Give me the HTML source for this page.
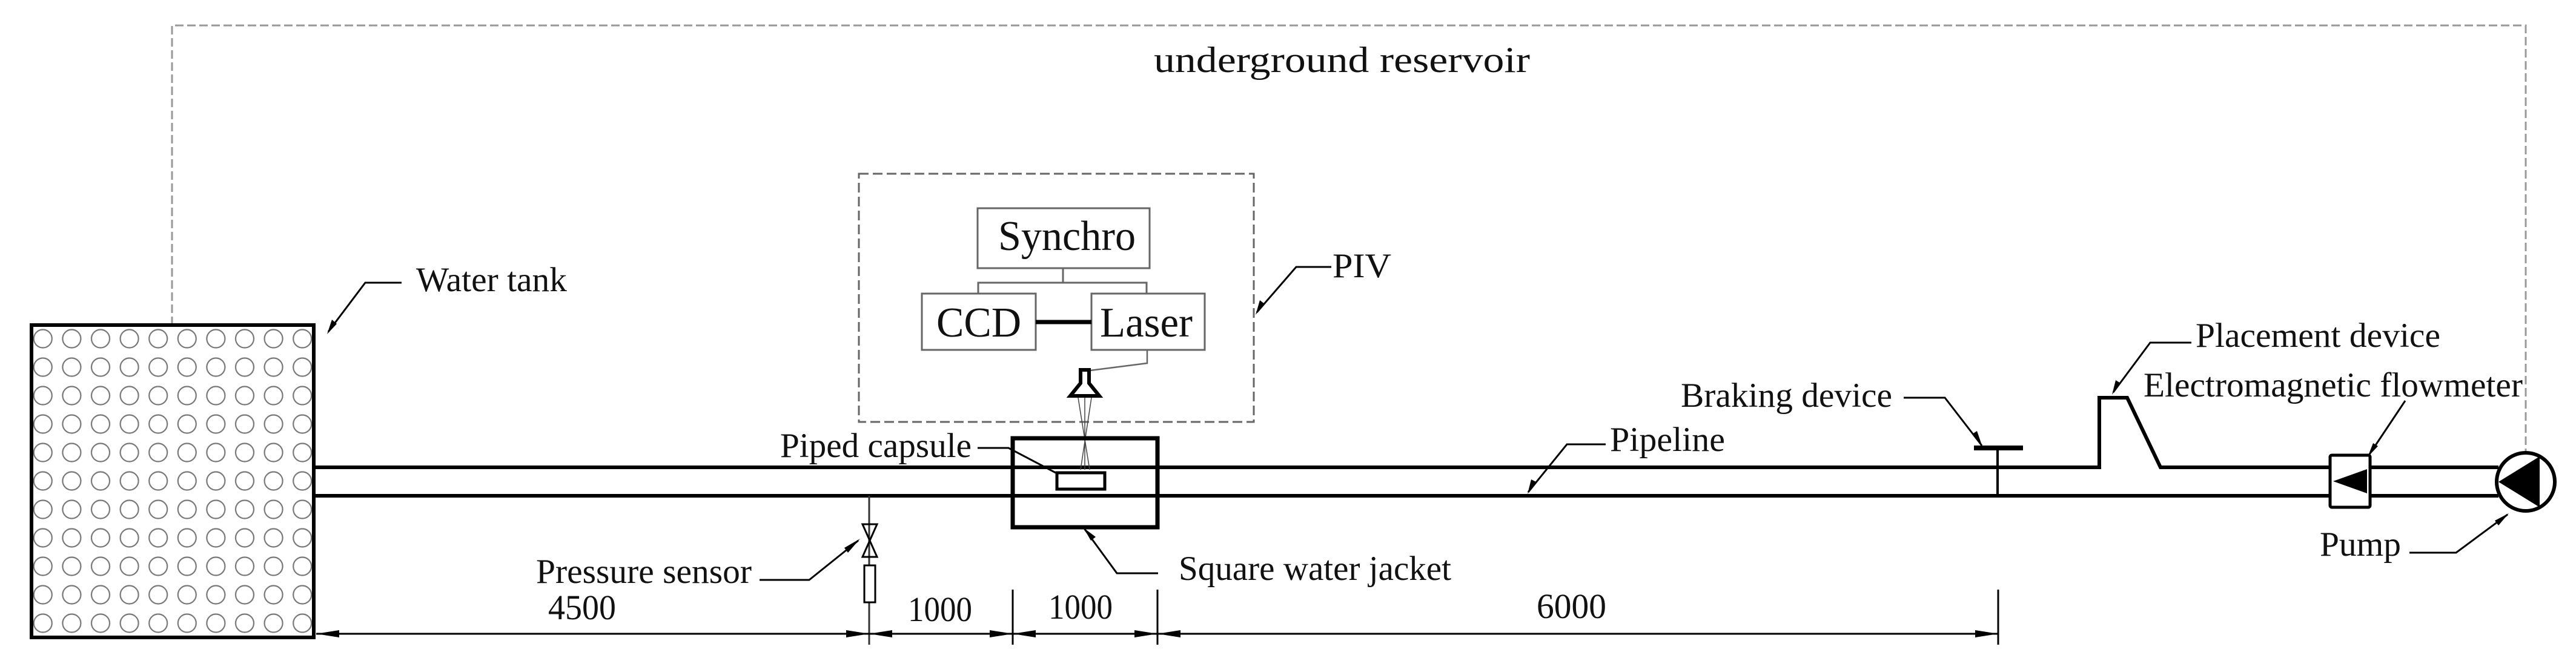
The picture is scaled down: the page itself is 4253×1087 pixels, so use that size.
<!DOCTYPE html>
<html><head><meta charset="utf-8"><style>
html,body{margin:0;padding:0;background:#fff;}
svg{display:block;}
text{font-family:"Liberation Serif",serif;fill:#111;}
</style></head><body>
<svg width="4253" height="1087" viewBox="0 0 4253 1087" xmlns="http://www.w3.org/2000/svg">
<defs>
<pattern id="circ" x="47" y="536" width="47.6" height="47" patternUnits="userSpaceOnUse">
<circle cx="23.8" cy="23.5" r="15" fill="none" stroke="#777" stroke-width="2.2"/>
</pattern>
</defs>
<!-- outer dashed reservoir -->
<path d="M284 537 V42 H4170 V746" fill="none" stroke="#999" stroke-width="3" stroke-dasharray="14 6"/>
<text x="1905" y="119" font-size="60" textLength="621" lengthAdjust="spacingAndGlyphs">underground reservoir</text>

<!-- water tank -->
<rect x="52" y="537" width="466" height="516" fill="url(#circ)"/>
<rect x="52" y="537" width="466" height="516" fill="none" stroke="#000" stroke-width="6"/>
<path d="M542 548 L603 467 H663" fill="none" stroke="#000" stroke-width="3"/>
<path d="M540 552 L548 528 L556 535 Z" fill="#000"/>
<text x="687" y="481" font-size="57" textLength="249" lengthAdjust="spacingAndGlyphs">Water tank</text>

<!-- pipeline -->
<path d="M518 772 H3466 V657 H3512 L3567 772 H4125" fill="none" stroke="#000" stroke-width="6"/>
<path d="M518 819 H4125" fill="none" stroke="#000" stroke-width="6"/>

<!-- PIV box -->
<rect x="1418" y="287" width="652" height="410" fill="none" stroke="#666" stroke-width="3" stroke-dasharray="16 7"/>
<rect x="1614" y="344" width="284" height="99" fill="#fff" stroke="#666" stroke-width="3"/>
<text x="1648" y="413" font-size="70" textLength="227" lengthAdjust="spacingAndGlyphs">Synchro</text>
<path d="M1755 443 V467 M1615 490 V467 H1893 V485" fill="none" stroke="#666" stroke-width="3"/>
<rect x="1522" y="485" width="188" height="93" fill="#fff" stroke="#666" stroke-width="3"/>
<text x="1546" y="556" font-size="70" textLength="140" lengthAdjust="spacingAndGlyphs">CCD</text>
<rect x="1802" y="485" width="187" height="93" fill="#fff" stroke="#666" stroke-width="3"/>
<text x="1816" y="556" font-size="70" textLength="153" lengthAdjust="spacingAndGlyphs">Laser</text>
<path d="M1710 532 H1802" stroke="#000" stroke-width="7"/>
<path d="M1894 578 V600 L1800 612" fill="none" stroke="#666" stroke-width="2.5"/>
<!-- laser head -->
<path d="M1784 611 H1798 V633 L1815 654 H1767 L1784 633 Z" fill="#fff" stroke="#000" stroke-width="6" stroke-linejoin="miter"/>
<path d="M1780 657 L1799 776 M1802 657 L1784 776 M1791 657 V776" fill="none" stroke="#444" stroke-width="1.5"/>
<path d="M2075 516 L2140 441 H2198" fill="none" stroke="#000" stroke-width="3"/>
<path d="M2073 520 L2080 496 L2088 502 Z" fill="#000"/>
<text x="2200" y="458" font-size="57" textLength="97" lengthAdjust="spacingAndGlyphs">PIV</text>

<!-- water jacket -->
<rect x="1672" y="724" width="239" height="147" fill="none" stroke="#000" stroke-width="7"/>
<rect x="1745" y="781" width="79" height="27" fill="#fff" stroke="#000" stroke-width="5"/>
<text x="1288" y="755" font-size="57" textLength="316" lengthAdjust="spacingAndGlyphs">Piped capsule</text>
<path d="M1614 740 H1665 L1743 781" fill="none" stroke="#000" stroke-width="3"/>
<path d="M1790 873 L1844 947 H1912" fill="none" stroke="#000" stroke-width="3"/>
<path d="M1789 872 L1809 887 L1801 893 Z" fill="#000"/>
<text x="1946" y="958" font-size="57" textLength="450" lengthAdjust="spacingAndGlyphs">Square water jacket</text>

<!-- pressure sensor -->
<path d="M1435 819 V1065" stroke="#333" stroke-width="3"/>
<path d="M1424 866 H1448 L1424 920 H1448 Z" fill="none" stroke="#000" stroke-width="3"/>
<rect x="1427" y="934" width="18" height="61" fill="#fff" stroke="#000" stroke-width="3"/>
<path d="M1254 958 H1336 L1417 893" fill="none" stroke="#000" stroke-width="3"/>
<path d="M1420 890 L1400 913 L1394 905 Z" fill="#000"/>
<text x="885" y="963" font-size="57" textLength="356" lengthAdjust="spacingAndGlyphs">Pressure sensor</text>

<!-- dimensions -->
<path d="M522 1047 H3299" stroke="#000" stroke-width="3"/>
<path d="M1672 974 V1065 M1911 974 V1065 M3299 974 V1065" stroke="#000" stroke-width="3"/>
<g fill="#000">
<path d="M522 1047 L560 1041 L560 1053 Z"/>
<path d="M1435 1047 L1397 1041 L1397 1053 Z"/>
<path d="M1435 1047 L1473 1041 L1473 1053 Z"/>
<path d="M1672 1047 L1634 1041 L1634 1053 Z"/>
<path d="M1672 1047 L1710 1041 L1710 1053 Z"/>
<path d="M1911 1047 L1873 1041 L1873 1053 Z"/>
<path d="M1911 1047 L1949 1041 L1949 1053 Z"/>
<path d="M3299 1047 L3261 1041 L3261 1053 Z"/>
</g>
<text x="905" y="1023" font-size="58" textLength="112" lengthAdjust="spacingAndGlyphs">4500</text>
<text x="1499" y="1026" font-size="58" textLength="106" lengthAdjust="spacingAndGlyphs">1000</text>
<text x="1731" y="1022" font-size="58" textLength="106" lengthAdjust="spacingAndGlyphs">1000</text>
<text x="2537" y="1021" font-size="58" textLength="115" lengthAdjust="spacingAndGlyphs">6000</text>

<!-- pipeline label -->
<path d="M2523 813 L2587 734 H2651" fill="none" stroke="#000" stroke-width="3"/>
<path d="M2522 816 L2528 792 L2536 796 Z" fill="#000"/>
<text x="2658" y="745" font-size="57" textLength="190" lengthAdjust="spacingAndGlyphs">Pipeline</text>

<!-- braking -->
<path d="M3259 740 H3340" stroke="#000" stroke-width="8"/>
<path d="M3298 740 V819" stroke="#000" stroke-width="4"/>
<path d="M3143 657 H3211 L3272 736" fill="none" stroke="#000" stroke-width="3"/>
<path d="M3273 738 L3256 717 L3264 712 Z" fill="#000"/>
<text x="2775" y="672" font-size="57" textLength="349" lengthAdjust="spacingAndGlyphs">Braking device</text>

<!-- placement -->
<path d="M3489 648 L3550 566 H3618" fill="none" stroke="#000" stroke-width="3"/>
<path d="M3487 652 L3493 628 L3501 633 Z" fill="#000"/>
<text x="3625" y="573" font-size="57" textLength="404" lengthAdjust="spacingAndGlyphs">Placement device</text>
<text x="3539" y="655" font-size="57" textLength="626" lengthAdjust="spacingAndGlyphs">Electromagnetic flowmeter</text>
<path d="M3971 662 L3911 752" fill="none" stroke="#000" stroke-width="3"/>
<path d="M3909 755 L3918 732 L3926 737 Z" fill="#000"/>

<!-- flowmeter -->
<rect x="3847" y="752" width="66" height="86" rx="3" fill="#fff" stroke="#000" stroke-width="5"/>
<path d="M3852 795 L3908 775 V815 Z" fill="#000"/>

<!-- pump -->
<circle cx="4170" cy="796" r="48" fill="#fff" stroke="#000" stroke-width="6"/>
<path d="M4125 796 L4193 754 V838 Z" fill="#000"/>
<path d="M3978 913 H4055 L4140 850" fill="none" stroke="#000" stroke-width="3"/>
<path d="M4142 848 L4125 868 L4119 860 Z" fill="#000"/>
<text x="3830" y="918" font-size="57" textLength="134" lengthAdjust="spacingAndGlyphs">Pump</text>
</svg>
</body></html>
